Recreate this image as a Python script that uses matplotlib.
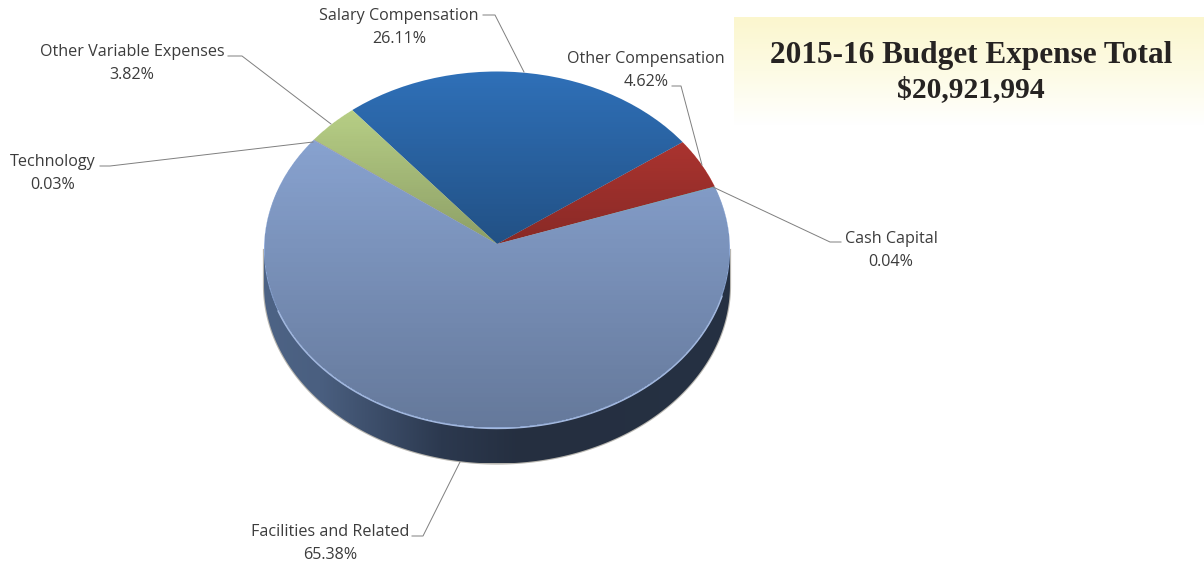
import matplotlib
matplotlib.use('Agg')
import matplotlib.pyplot as plt
import numpy as np
from matplotlib.colors import LinearSegmentedColormap
from matplotlib.patches import Ellipse, Polygon

# slices, counter clockwise from the right edge of the facilities slice
labels = ['Other Compensation', 'Salary Compensation', 'Other Variable Expenses',
          'Technology', 'Facilities and Related', 'Cash Capital']
values = [4.62, 26.11, 3.82, 0.03, 65.38, 0.04]
colors = ['#C23B36', '#2F70B8', '#C3DC8E', '#8064A2', '#90ACDC', '#4BACC6']
shade = [0.62, 0.58, 0.58, 0.5, 0.30, 0.5]

W, H = 1204, 564
cx, cy, rx, ry = 497, 250, 233, 178.5   # top ellipse, in pixels
apex_y = 244
depth = 35

fig = plt.figure(figsize=(W / 100, H / 100), dpi=100)
ax = fig.add_axes([0, 0, 1, 1])

wedges, _ = ax.pie(values, colors=colors, startangle=19, radius=1.15,
                   center=(0, (cy - apex_y) / ry), normalize=True)
ax.set_aspect('auto')
xlim = (-cx / rx, (W - cx) / rx)
ylim = ((cy - H) / ry, cy / ry)
d = depth / ry

# side of the disc with a left to right gradient
t = np.linspace(np.pi, 2 * np.pi, 200)
side_pts = np.vstack([np.column_stack([np.cos(t), np.sin(t) - d]),
                      [[1, 0]], [[-1, 0]]])
side = Polygon(side_pts, closed=True, fc='none', ec='#B8B6B0', lw=1.6, zorder=0.5)
ax.add_patch(side)
side_cmap = LinearSegmentedColormap.from_list(
    'side', [(0, '#4D6385'), (0.12, '#4A5F80'), (0.38, '#2C394F'),
             (0.55, '#252F40'), (1, '#263143')])
grad = np.linspace(0, 1, 256).reshape(1, -1)
im = ax.imshow(grad, cmap=side_cmap, extent=(-1, 1, -1 - d, 0.2), aspect='auto', zorder=0.6)
im.set_clip_path(side)

# top of the disc
top = Ellipse((0, 0), 2, 2, fc='none', ec='none', zorder=1)
ax.add_patch(top)
for w in wedges:
    w.set_zorder(1)
    w.set_clip_on(True)
    w.set_clip_path(top)

# vertical shading per slice, only inside the ellipse
yy, xx = np.mgrid[1:-1:400j, -1:1:500j]
inside = xx ** 2 + yy ** 2 <= 1
for w, s in zip(wedges, shade):
    img = np.zeros((400, 500, 4))
    img[..., 3] = inside * s * (1 - yy) / 2
    o = ax.imshow(img, extent=(-1, 1, -1, 1), aspect='auto', zorder=1.1,
                  interpolation='bilinear')
    o.set_clip_path(w)

# light line along the bottom of the rim
t = np.linspace(np.radians(200), np.radians(345), 200)
ax.plot(np.cos(t), np.sin(t), color='#A3B8DE', lw=1.0, zorder=1.3)

ax.set_xlim(xlim)
ax.set_ylim(ylim)

# overlay in pixel coordinates for title, labels and leader lines
ov = fig.add_axes([0, 0, 1, 1], facecolor='none')
band = LinearSegmentedColormap.from_list('band', ['#FBF6CE', '#FDFBE4', '#FFFFFF'])
ov.imshow(np.linspace(0, 1, 256).reshape(-1, 1), cmap=band, extent=(734, W, 125, 17),
          aspect='auto', zorder=0)
ov.set_xlim(0, W)
ov.set_ylim(H, 0)
ov.axis('off')

title_font = 'Liberation Serif'
ov.text(971, 56, '2015-16 Budget Expense Total', family=title_font, weight='bold',
        fontsize=22.5, color='#262322', ha='center', va='center')
ov.text(971, 90, '$20,921,994', family=title_font, weight='bold',
        fontsize=21.3, color='#262322', ha='center', va='center')

label_x = [646, 399, 132, 53, 330, 891]
label_y = [59, 16, 52, 162, 532, 239]
leaders = [[(672, 86), (681, 86), (702, 165)],
           [(483, 15), (495, 15), (524, 72)],
           [(228, 56), (242, 56), (331, 124)],
           [(100, 166), (110, 166), (313, 142)],
           [(412, 536), (423, 536), (460, 462)],
           [(841, 242), (830, 242), (713, 187)]]
for name, v, x, y, line in zip(labels, values, label_x, label_y, leaders):
    ov.text(x, y, name, family='Open Sans', fontsize=11.6, color='#3C3C3C', ha='center', va='center')
    ov.text(x, y + 23, f'{v:.2f}%', family='Open Sans', fontsize=11.6, color='#3C3C3C', ha='center', va='center')
    xs, ys = zip(*line)
    ov.plot(xs, ys, color='#7F7F7F', lw=0.7, zorder=3)

plt.savefig('out.png', dpi=100)
